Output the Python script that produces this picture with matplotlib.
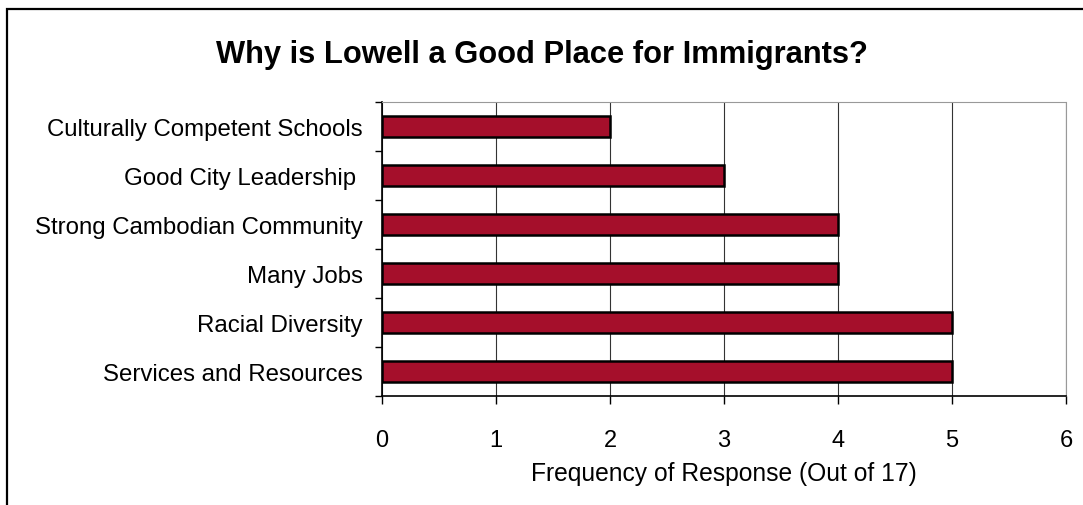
import matplotlib
matplotlib.use("Agg")
import matplotlib.pyplot as plt
from matplotlib.patches import Rectangle

# --- Data ---
categories = ["Services and Resources", "Racial Diversity", "Many Jobs",
              "Strong Cambodian Community", "Good City Leadership ",
              "Culturally Competent Schools"]
counts = [5, 5, 4, 4, 3, 2]
x_ticks = [0, 1, 2, 3, 4, 5, 6]

plt.rcParams['font.family'] = ['Liberation Sans', 'DejaVu Sans']

fig = plt.figure(figsize=(10.83, 5.06), dpi=100)
ax = fig.add_axes([0.3527, 0.2154, 0.6316, 0.581])

# outer frame of the chart (runs off right/bottom edges)
fig.patches.append(Rectangle((7 / 1083, -0.05), 1.1, 1 - 10 / 506 + 0.05,
                             transform=fig.transFigure, fill=False,
                             edgecolor="black", linewidth=1.6))

ypos = list(range(len(categories)))
ax.barh(ypos, counts, height=0.42, color="#a50f2b", edgecolor="black",
        linewidth=1.8, zorder=3)

ax.set_xlim(0, 6)
ax.set_ylim(-0.5, len(categories) - 0.5)
ax.set_xticks(x_ticks)
ax.set_xticklabels([str(t) for t in x_ticks], fontsize=17)
ax.set_yticks(ypos)
ax.set_yticklabels(categories, fontsize=17.3)
ax.tick_params(axis="y", length=0, pad=14)
ax.tick_params(axis="x", length=6, width=1, pad=18)

# small tick marks between categories
ax.set_yticks([i + 0.5 for i in range(-1, len(categories))], minor=True)
ax.tick_params(axis="y", which="minor", length=5, width=1)

ax.xaxis.grid(True, color="#333333", linewidth=0.8, zorder=0)
ax.spines["left"].set_linewidth(1.2)
ax.spines["bottom"].set_linewidth(1.2)
ax.spines["top"].set_color("#999999")
ax.spines["top"].set_linestyle((0, (1, 1)))
ax.spines["right"].set_color("#999999")
ax.spines["right"].set_linestyle((0, (1, 1)))

ax.set_xlabel("Frequency of Response (Out of 17)", fontsize=17.7, labelpad=7)
fig.text(0.5, 1 - 55 / 506, "Why is Lowell a Good Place for Immigrants?",
         ha="center", va="center", fontsize=22.2, fontweight="bold")

fig.savefig("out.png", dpi=100)
